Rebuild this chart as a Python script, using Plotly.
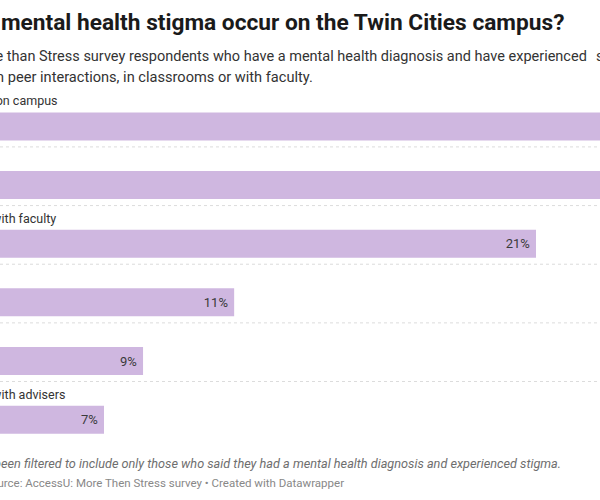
import plotly.graph_objects as go

# ---- data ----
categories = [
    "In peer interactions on campus",
    "In classrooms",
    "In interactions with faculty",
    "In campus housing",
    "At campus jobs",
    "In interactions with advisers",
]
values = [36.0, 29.0, 21.2, 11.46, 8.52, 7.26]

title = "Where does mental health stigma occur on the Twin Cities campus?"
subtitle_1 = "Percentage of More than Stress survey respondents who have a mental health diagnosis and have experienced"
subtitle_1b = "stigma, by where it happened. Most said it happened"
subtitle_2 = "Most said it happened in peer interactions, in classrooms or with faculty."
note = "Note: Data has been filtered to include only those who said they had a mental health diagnosis and experienced stigma."
source = "Source: AccessU: More Then Stress survey \u2022 Created with Datawrapper"

# ---- style / layout ----
W, H = 600, 500
X_RANGE = [3.904, 23.265]
BAR_COLOR = "#cfb7e0"
FONT = "Roboto"
# right edge (px) of the visible part of each bar label (negative -> fully off-canvas)
label_right_px = [60, -8, 57.7, -8, -8, 66.7]

def px(x):
    return x / W

def py(y):
    return 1 - y / H

fig = go.Figure(
    go.Bar(
        x=values,
        y=categories,
        orientation="h",
        width=0.478,
        marker=dict(color=BAR_COLOR, line=dict(width=0)),
        texttemplate="%{x:.0f}%\u00a0",
        textposition="inside",
        insidetextanchor="end",
        textfont=dict(family=FONT, size=13, color="#3a3a3a"),
        hoverinfo="skip",
    )
)

shapes = []
for i in range(len(categories) - 1):
    shapes.append(
        dict(
            type="line", xref="paper", x0=0, x1=1, yref="y", y0=i + 0.35, y1=i + 0.35,
            line=dict(color="#dcdcdc", width=1, dash="dot"), layer="below",
        )
    )

ann = []
ann.append(dict(text="<b>" + title + "</b>", xref="paper", yref="paper", x=px(566), y=py(22.5),
                xanchor="right", yanchor="middle", showarrow=False,
                font=dict(family=FONT, size=22.7, color="#1a1a1a")))
ann.append(dict(text=subtitle_1, xref="paper", yref="paper", x=px(589), y=py(57),
                xanchor="right", yanchor="middle", showarrow=False,
                font=dict(family=FONT, size=14.5, color="#333333")))
ann.append(dict(text=subtitle_1b, xref="paper", yref="paper", x=px(593.5), y=py(57),
                xanchor="left", yanchor="middle", showarrow=False,
                font=dict(family=FONT, size=14.5, color="#333333")))
ann.append(dict(text=subtitle_2, xref="paper", yref="paper", x=px(314.6), y=py(76.8),
                xanchor="right", yanchor="middle", showarrow=False,
                font=dict(family=FONT, size=14.6, color="#333333")))
for cat, rx in zip(categories, label_right_px):
    ann.append(dict(text=cat, xref="paper", yref="y", x=px(rx), y=cat, yshift=25.5,
                    xanchor="right", yanchor="middle", showarrow=False,
                    font=dict(family=FONT, size=12.5, color="#333333")))
ann.append(dict(text="<i>" + note + "</i>", xref="paper", yref="paper", x=px(562.6), y=py(463.5),
                xanchor="right", yanchor="middle", showarrow=False,
                font=dict(family=FONT, size=12.7, color="#6e6e6e")))
ann.append(dict(text=source, xref="paper", yref="paper", x=px(345.6), y=py(483),
                xanchor="right", yanchor="middle", showarrow=False,
                font=dict(family=FONT, size=11.5, color="#888888")))

fig.update_layout(
    width=W, height=H,
    margin=dict(l=0, r=0, t=0, b=0),
    paper_bgcolor="white", plot_bgcolor="white",
    showlegend=False,
    xaxis=dict(range=X_RANGE, visible=False, fixedrange=True),
    yaxis=dict(type="category", categoryorder="array", categoryarray=categories,
               range=[5.5, -0.5], domain=[0.10204, 0.80586], visible=False, fixedrange=True),
    shapes=shapes,
    annotations=ann,
    font=dict(family=FONT),
)

fig.write_html(
    "out.html",
    config={"displayModeBar": False},
    post_script="document.body.style.margin='0';document.body.style.overflow='hidden';",
)
